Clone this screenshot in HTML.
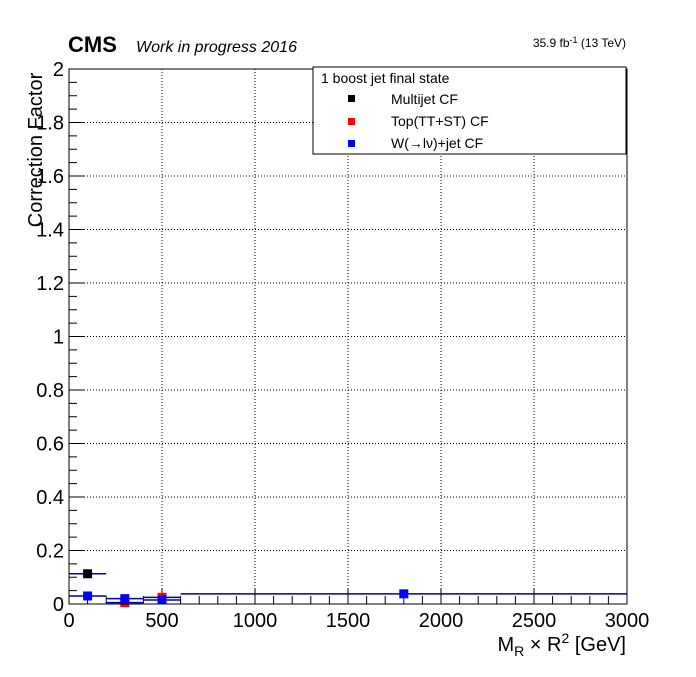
<!DOCTYPE html>
<html><head><meta charset="utf-8"><style>
body{margin:0;background:#fff;}
svg text{font-family:"Liberation Sans",sans-serif;}
</style></head><body>
<svg id="c" width="696" height="672" xmlns="http://www.w3.org/2000/svg">
<rect width="696" height="672" fill="#fff"/>
<g id="grid"></g>
<g id="axes"></g>
<g id="marks"></g>
<rect x="69" y="69" width="558" height="535" fill="none" stroke="#000" stroke-width="1"/>
<text x="68" y="52" font-size="22" font-weight="bold">CMS</text>
<text x="136" y="52" font-size="16" font-style="italic">Work in progress 2016</text>
<text x="626" y="47" font-size="12" text-anchor="end">35.9 fb<tspan dy="-4" font-size="9">-1</tspan><tspan dy="4"> (13 TeV)</tspan></text>
<text transform="translate(42,150) rotate(-90)" font-size="20" text-anchor="middle">Correction Factor</text>
<text x="626" y="651" font-size="20" text-anchor="end">M<tspan dy="5" font-size="14">R</tspan><tspan dy="-5"> × R</tspan><tspan dy="-8" font-size="14">2</tspan><tspan dy="8"> [GeV]</tspan></text>
<g>
<rect x="313" y="67" width="313" height="87" fill="#fff" stroke="#000" stroke-width="1"/>
<text x="321" y="83" font-size="14">1 boost jet final state</text>
<rect x="348" y="95" width="7" height="7" fill="#000"/>
<text x="391" y="104" font-size="14">Multijet CF</text>
<rect x="348" y="118" width="7" height="7" fill="#f00"/>
<text x="391" y="126" font-size="14">Top(TT+ST) CF</text>
<rect x="348" y="140" width="7" height="7" fill="#00f"/>
<text x="391" y="148" font-size="14">W(→lν)+jet CF</text>
</g>
</svg>
<script>
const binLo=[0,200,400,600];
const binHi=[200,400,600,3000];
const binCenter=[100,300,500,1800];
const multijet=[0.113,null,null,null];
const top_=[null,0.005,0.025,null];
const wjet=[0.03,0.02,0.015,0.038];
const xTicks=[0,500,1000,1500,2000,2500,3000];
const yTicks=[0,0.2,0.4,0.6,0.8,1,1.2,1.4,1.6,1.8,2];
const yTickLabels=["0","0.2","0.4","0.6","0.8","1","1.2","1.4","1.6","1.8","2"];
const X0=69,X1=627,Y0=604,Y1=69;
const sx=v=>X0+(v/3000)*(X1-X0);
const sy=v=>Y0-(v/2)*(Y0-Y1);
const NS="http://www.w3.org/2000/svg";
function mk(p,t,a){const e=document.createElementNS(NS,t);for(const k in a)e.setAttribute(k,a[k]);document.getElementById(p).appendChild(e);return e;}
xTicks.forEach(v=>{if(v>0&&v<3000){const l=mk('grid','line',{x1:sx(v),x2:sx(v),y1:Y0,y2:Y1,stroke:'#000','stroke-dasharray':'1,2','stroke-width':1});

}});
yTicks.forEach(v=>{if(v>0&&v<2){const l=mk('grid','line',{x1:X0,x2:X1,y1:sy(v),y2:sy(v),stroke:'#000','stroke-dasharray':'1,2','stroke-width':1});

}});
for(let v=0;v<=3000;v+=100){const len=(v%500===0)?16:8;const l=mk('axes','line',{x1:sx(v),x2:sx(v),y1:Y0,y2:Y0-len,stroke:'#000'});

}
for(let i=0;i<=40;i++){const v=i*0.05;const len=(i%4===0)?16:8;const l=mk('axes','line',{x1:X0,x2:X0+len,y1:sy(v),y2:sy(v),stroke:'#000'});

}
xTicks.forEach(v=>{const t=mk('axes','text',{x:sx(v),y:627,'font-size':20,'text-anchor':'middle'});t.textContent=v;

});
yTicks.forEach((v,i)=>{const t=mk('axes','text',{x:64,y:sy(v)+7,'font-size':20,'text-anchor':'end'});t.textContent=yTickLabels[i];

});
function series(arr,col,name){arr.forEach((v,i)=>{if(v===null)return;
const l=mk('marks','line',{x1:sx(binLo[i]),x2:sx(binHi[i]),y1:sy(v),y2:sy(v),stroke:'#00a','stroke-width':1.5});


const r=mk('marks','rect',{x:sx(binCenter[i])-4.5,y:sy(v)-4.5,width:9,height:9,fill:col});

});}
series(multijet,'#000','multijet');
series(top_,'#f00','top');
series(wjet,'#00f','wjet');
</script>
</body></html>
